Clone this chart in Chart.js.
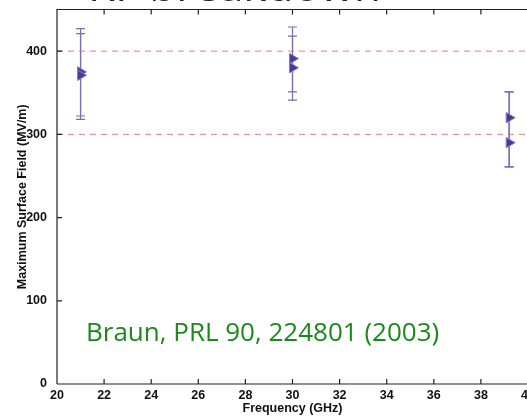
<!DOCTYPE html>
<html lang="en">
<head>
  <meta charset="UTF-8" />
  <title>RF breakdown</title>
  <script src="https://cdn.jsdelivr.net/npm/chart.js"></script>
  <style>
    html, body { margin: 0; padding: 0; background: #fff; overflow: hidden; width: 527px; height: 416px; }
    #wrap { position: absolute; left: 0; top: 0; width: 540px; height: 416px; }
    #slideTitle { position: absolute; left: 88px; top: -41px; font-family: "Open Sans", sans-serif; font-size: 44px; line-height: 50px; color: #222; white-space: nowrap; }
    #ref { position: absolute; left: 86px; top: 313px; font-family: "Open Sans", sans-serif; font-size: 26px; color: #1a8a1a; white-space: nowrap; }
  </style>
</head>
<body>
  <div id="wrap"><canvas id="chartCanvas"></canvas></div>
  <div id="slideTitle">RF breakdown</div>
  <div id="ref">Braun, PRL 90, 224801 (2003)</div>

  <script>
    // measured points (GHz, MV/m), two shots per frequency
    const freqs = [21, 21, 30, 30, 39.2, 39.2];
    const fieldVals = [375, 371, 391, 380, 320, 290];
    const errHigh = [427, 421, 429, 418, 351, 351];
    const errLow = [322, 318, 351, 341, 261, 261];
    const xTicks = [20, 22, 24, 26, 28, 30, 32, 34, 36, 38, 40];
    const yTicks = [0, 100, 200, 300, 400];
    const limitLines = [400, 300];

    const markerFill = '#4a3a9a';
    const markerEdge = '#8a7cc8';
    const barColor = '#7a6ab8';

    const points = freqs.map((f, i) => ({ x: f, y: fieldVals[i] }));

    const limitSets = limitLines.map(v => ({
      type: 'line',
      data: [{ x: 20, y: v }, { x: 40, y: v }],
      borderColor: 'rgba(235,90,90,0.8)',
      borderWidth: 1,
      borderDash: [6, 5],
      pointRadius: 0,
      order: 3
    }));

    // error bars with caps, drawn through the scales
    const errorBars = {
      id: 'errorBars',
      beforeDatasetsDraw(chart) {
        const { ctx, scales: { x, y } } = chart;
        ctx.save();
        ctx.strokeStyle = barColor;
        ctx.lineWidth = 1.2;
        freqs.forEach((f, i) => {
          const px = x.getPixelForValue(f);
          const hi = y.getPixelForValue(errHigh[i]);
          const lo = y.getPixelForValue(errLow[i]);
          ctx.beginPath();
          ctx.moveTo(px, hi); ctx.lineTo(px, lo);
          ctx.moveTo(px - 4.5, hi); ctx.lineTo(px + 4.5, hi);
          ctx.moveTo(px - 4.5, lo); ctx.lineTo(px + 4.5, lo);
          ctx.stroke();
        });
        ctx.restore();
      }
    };

    // inward tick marks and frame
    const frame = {
      id: 'frame',
      afterDraw(chart) {
        const { ctx, chartArea: a, scales: { x, y } } = chart;
        ctx.save();
        ctx.strokeStyle = '#222';
        ctx.lineWidth = 1.2;
        ctx.beginPath();
        ctx.moveTo(a.left, a.bottom); ctx.lineTo(a.left, a.top); ctx.lineTo(a.right, a.top);
        ctx.moveTo(a.left, a.bottom); ctx.lineTo(a.right, a.bottom);
        xTicks.forEach(t => {
          const px = x.getPixelForValue(t);
          ctx.moveTo(px, a.bottom); ctx.lineTo(px, a.bottom - 5);
          ctx.moveTo(px, a.top); ctx.lineTo(px, a.top + 5);
        });
        yTicks.forEach(t => {
          const py = y.getPixelForValue(t);
          ctx.moveTo(a.left, py); ctx.lineTo(a.left + 5, py);
        });
        ctx.stroke();
        ctx.restore();
      }
    };

    const tickFont = { family: 'Liberation Sans', size: 12.5, weight: 'bold' };
    const titleFont = { family: 'Liberation Sans', size: 12.5, weight: 'bold' };

    new Chart(document.getElementById('chartCanvas'), {
      type: 'scatter',
      data: {
        datasets: [
          {
            data: points,
            pointStyle: 'triangle',
            rotation: 90,
            pointRadius: 6,
            pointBackgroundColor: markerFill,
            pointBorderColor: markerEdge,
            pointBorderWidth: 1,
            order: 1
          },
          ...limitSets
        ]
      },
      options: {
        animation: false,
        responsive: true,
        maintainAspectRatio: false,
        layout: { padding: { top: 9, right: 12, left: 0, bottom: 0 } },
        plugins: { legend: { display: false }, tooltip: { enabled: false } },
        scales: {
          x: {
            type: 'linear', min: 20, max: 40,
            afterBuildTicks: s => { s.ticks = xTicks.map(v => ({ value: v })); },
            afterFit: s => { s.height = 32; },
            grid: { display: false },
            border: { display: false },
            ticks: { color: '#111', font: tickFont, padding: -4, maxRotation: 0 },
            title: { display: true, text: 'Frequency (GHz)', color: '#111', font: titleFont, padding: 0 }
          },
          y: {
            type: 'linear', min: 0, max: 450,
            afterBuildTicks: s => { s.ticks = yTicks.map(v => ({ value: v })); },
            afterFit: s => { s.width = 57; },
            grid: { display: false },
            border: { display: false },
            ticks: { color: '#111', font: tickFont, padding: 2 },
            title: { display: true, text: 'Maximum Surface Field (MV/m)', color: '#111', font: titleFont, padding: { top: 15, bottom: 0 } }
          }
        }
      },
      plugins: [errorBars, frame]
    });
  </script>
</body>
</html>
